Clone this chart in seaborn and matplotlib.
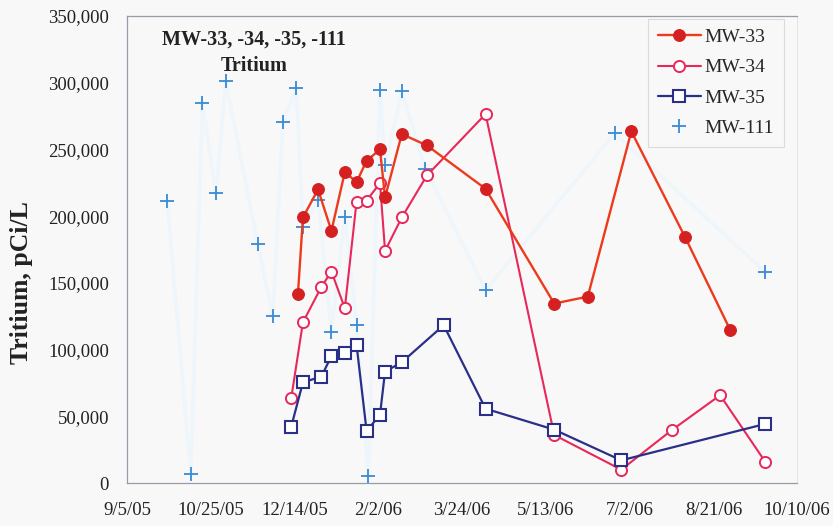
import matplotlib
matplotlib.use("Agg")
import matplotlib.pyplot as plt
import matplotlib.dates as mdates
from matplotlib.ticker import FuncFormatter, MultipleLocator
import seaborn as sns
import pandas as pd
import numpy as np

# ---------------- data ----------------
mw33_dates = ["2005-12-16", "2005-12-19", "2005-12-28", "2006-01-05", "2006-01-13",
              "2006-01-20", "2006-01-26", "2006-02-03", "2006-02-06", "2006-02-16",
              "2006-03-03", "2006-04-07", "2006-05-18", "2006-06-07", "2006-07-03",
              "2006-08-04", "2006-08-31"]
mw33_vals = [141500, 199000, 220000, 189000, 233000, 225500, 241500, 250000, 214000,
             261500, 253000, 220500, 134500, 139700, 263500, 184500, 114800]

mw34_dates = ["2005-12-12", "2005-12-19", "2005-12-30", "2006-01-05", "2006-01-13",
              "2006-01-20", "2006-01-26", "2006-02-03", "2006-02-06", "2006-02-16",
              "2006-03-03", "2006-04-07", "2006-05-18", "2006-06-27", "2006-07-27",
              "2006-08-25", "2006-09-21"]
mw34_vals = [63500, 120500, 147000, 158500, 131000, 210800, 211700, 224800, 174000,
             199000, 230500, 276500, 36000, 10000, 39500, 65800, 15800]

mw35_dates = ["2005-12-12", "2005-12-19", "2005-12-30", "2006-01-05", "2006-01-13",
              "2006-01-20", "2006-01-26", "2006-02-03", "2006-02-06", "2006-02-16",
              "2006-03-13", "2006-04-07", "2006-05-18", "2006-06-27", "2006-09-21"]
mw35_vals = [42200, 75500, 79700, 95300, 97700, 103500, 39000, 51200, 83500, 90500,
             118300, 55700, 40000, 17000, 44300]

mw111_dates = ["2005-09-29", "2005-10-13", "2005-10-20", "2005-10-28", "2005-11-03",
               "2005-11-22", "2005-12-01", "2005-12-07", "2005-12-15", "2005-12-19",
               "2005-12-28", "2006-01-05", "2006-01-13", "2006-01-20", "2006-01-27",
               "2006-02-03", "2006-02-06", "2006-02-16", "2006-03-02", "2006-04-07",
               "2006-06-23", "2006-09-21"]
mw111_vals = [211500, 6500, 284500, 217000, 301000, 179000, 125500, 270500, 295700,
              192000, 212000, 113500, 199000, 118500, 5300, 294500, 238000, 293500,
              235700, 144400, 262000, 158000]

series_names = ["MW-33", "MW-34", "MW-35", "MW-111"]
title_lines = ["MW-33, -34, -35, -111", "Tritium"]
y_label = "Tritium, pCi/L"
x_start, x_end = "2005-09-05", "2006-10-10"

# ---------------- plot ----------------
sns.set_theme(style="white")
plt.rcParams["font.family"] = ["Liberation Serif", "DejaVu Serif"]

bg = "#f8f8f8"
fig = plt.figure(figsize=(8.33, 5.26), dpi=100, facecolor=bg)
ax = fig.add_axes([0.1525, 0.0817, 0.8045, 0.8879])
ax.set_facecolor(bg)

def frame(d, v, name):
    return pd.DataFrame({"date": pd.to_datetime(d), "value": v, "well": name})

df33 = frame(mw33_dates, mw33_vals, series_names[0])
df34 = frame(mw34_dates, mw34_vals, series_names[1])
df35 = frame(mw35_dates, mw35_vals, series_names[2])
df111 = frame(mw111_dates, mw111_vals, series_names[3])

# very faint connecting line for MW-111
sns.lineplot(data=df111, x="date", y="value", ax=ax, sort=False, estimator=None,
             color="#eef6fb", linewidth=2.6, legend=False, zorder=1)
sns.lineplot(data=df111, x="date", y="value", ax=ax, sort=False, estimator=None,
             color="#3a8ad4", linewidth=0, marker="+", markersize=9.5,
             markeredgewidth=1.3, markeredgecolor="#3a8ad4",
             label=series_names[3], zorder=2)

sns.lineplot(data=df33, x="date", y="value", ax=ax, sort=False, estimator=None,
             color="#ee3a1c", linewidth=1.7, marker="o", markersize=8.5,
             markerfacecolor="#d42020", markeredgecolor="#d42020",
             label=series_names[0], zorder=4)
sns.lineplot(data=df34, x="date", y="value", ax=ax, sort=False, estimator=None,
             color="#e8285a", linewidth=1.5, marker="o", markersize=8,
             markerfacecolor="white", markeredgecolor="#e8285a", markeredgewidth=1.4,
             label=series_names[1], zorder=3)
sns.lineplot(data=df35, x="date", y="value", ax=ax, sort=False, estimator=None,
             color="#2a2f88", linewidth=1.6, marker="s", markersize=8,
             markerfacecolor="white", markeredgecolor="#2a2f88", markeredgewidth=1.5,
             label=series_names[2], zorder=3)

# axes
x0, x1 = pd.Timestamp(x_start), pd.Timestamp(x_end)
ax.set_xlim(mdates.date2num(x0), mdates.date2num(x1))
ticks = pd.date_range(x0, x1, freq="50D")
ax.set_xticks(mdates.date2num(ticks))
ax.xaxis.set_major_formatter(FuncFormatter(
    lambda v, p: (lambda d: f"{d.month}/{d.day}/{d.strftime('%y')}")(mdates.num2date(v))))
ax.set_ylim(0, 350000)
ax.yaxis.set_major_locator(MultipleLocator(50000))
ax.yaxis.set_major_formatter(FuncFormatter(lambda v, p: f"{int(v):,}"))

ax.tick_params(axis="both", labelsize=13.5, labelcolor="#222222", length=4, width=0.8,
               direction="out", color="#aaaaaa")
ax.tick_params(axis="y", pad=9)
ax.tick_params(axis="x", pad=10)
for s in ["left", "bottom", "top"]:
    ax.spines[s].set_color("#9a9aa8")
    ax.spines[s].set_linewidth(0.9)
ax.spines["right"].set_color("#e6e6e6")
ax.spines["right"].set_linewidth(0.8)

ax.set_xlabel("")
ax.set_ylabel(y_label, fontsize=18.5, fontweight="bold", color="#222222")
ax.yaxis.set_label_coords(-0.14, 0.43)

ax.text(0.19, 0.949, title_lines[0], transform=ax.transAxes, ha="center", va="center",
        fontsize=14.5, fontweight="bold", color="#222222")
ax.text(0.19, 0.893, title_lines[1], transform=ax.transAxes, ha="center", va="center",
        fontsize=14.5, fontweight="bold", color="#222222")

handles, labels = ax.get_legend_handles_labels()
order = [labels.index(n) for n in series_names]
leg = ax.legend([handles[i] for i in order], [labels[i] for i in order],
                loc="upper right", bbox_to_anchor=(0.98, 0.994), borderaxespad=0,
                frameon=True, fontsize=14, handlelength=2.2, handletextpad=0.2,
                labelspacing=0.65, borderpad=0.5, fancybox=False)
leg.get_frame().set_edgecolor("#d4d4d4")
leg.get_frame().set_facecolor(bg)
leg.get_frame().set_linewidth(0.8)

fig.savefig("out.png", dpi=100, facecolor=bg)
